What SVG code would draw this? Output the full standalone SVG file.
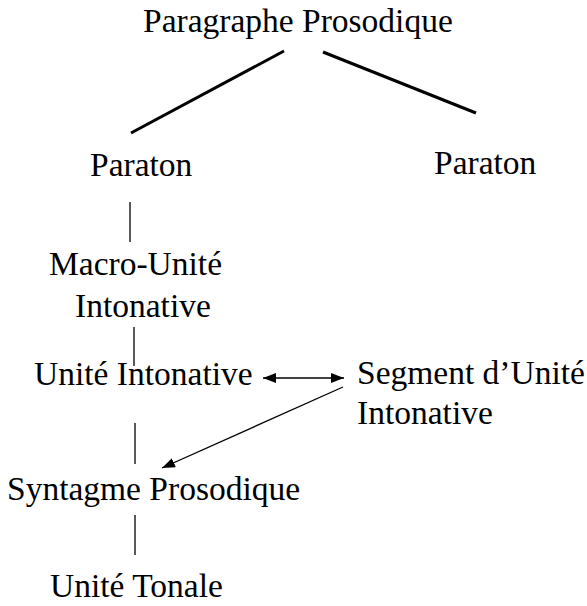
<svg xmlns="http://www.w3.org/2000/svg" width="587" height="606" viewBox="0 0 587 606">
<style>
text{font-family:"Liberation Serif","Times New Roman",serif;font-size:33.5px;fill:#000}
.thick{stroke:#000;stroke-width:3;fill:none}
.thin{stroke:#000;stroke-width:1.3;fill:none}
</style>
<defs>
<marker id="ah" viewBox="0 0 13 10" refX="13" refY="5" markerWidth="13" markerHeight="10" markerUnits="userSpaceOnUse" orient="auto-start-reverse">
<path d="M0,0 L13,5 L0,10 z" fill="#000"/>
</marker>
</defs>
<rect width="587" height="606" fill="#fff"/>
<g id="connectors">
<line class="thick" x1="131" y1="133" x2="284" y2="51"/>
<line class="thick" x1="323" y1="52" x2="476" y2="113"/>
<line class="thin" x1="130" y1="202" x2="130" y2="242"/>
<line class="thin" x1="134" y1="327" x2="134" y2="366"/>
<line class="thin" x1="135" y1="423" x2="135" y2="464"/>
<line class="thin" x1="135" y1="515" x2="135" y2="555"/>
<line class="thin" x1="263" y1="378" x2="344" y2="378" marker-start="url(#ah)" marker-end="url(#ah)"/>
<line class="thin" x1="343" y1="387" x2="162" y2="468" marker-end="url(#ah)"/>
</g>
<g id="paragraphe"><text x="143" y="32">Paragraphe Prosodique</text></g>
<g id="paraton1"><text x="90" y="176">Paraton</text></g>
<g id="paraton2"><text x="434" y="174">Paraton</text></g>
<g id="macro"><text x="49" y="275">Macro-Unité</text><text x="75" y="317">Intonative</text></g>
<g id="unite"><text x="34" y="385">Unité Intonative</text></g>
<g id="segment"><text x="357" y="384">Segment d’Unité</text><text x="357" y="424">Intonative</text></g>
<g id="syntagme"><text x="7" y="500">Syntagme Prosodique</text></g>
<g id="tonale"><text x="50" y="597">Unité Tonale</text></g>
</svg>
